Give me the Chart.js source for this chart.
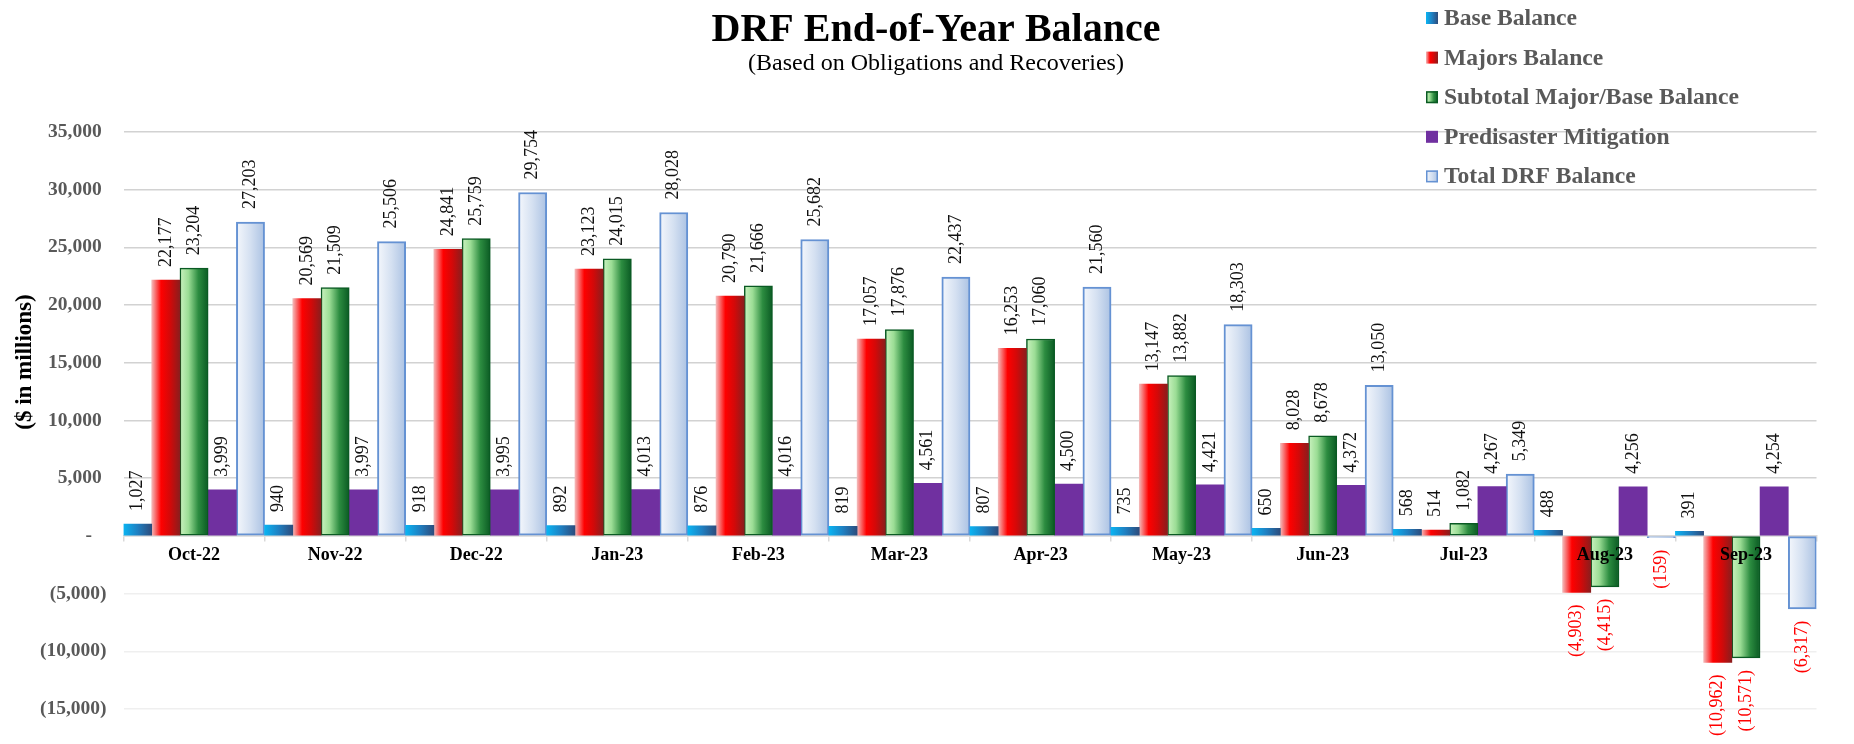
<!DOCTYPE html>
<html>
<head>
<meta charset="utf-8">
<title>DRF End-of-Year Balance</title>
<script src="https://cdn.jsdelivr.net/npm/chart.js@4.4.1/dist/chart.umd.min.js"></script>
<style>
  html, body { margin: 0; padding: 0; background: #fff; }
  canvas { display: block; }
</style>
</head>
<body>
<canvas id="drfChart" width="1854" height="744"></canvas>
<script>
const months = ['Oct-22', 'Nov-22', 'Dec-22', 'Jan-23', 'Feb-23', 'Mar-23',
                'Apr-23', 'May-23', 'Jun-23', 'Jul-23', 'Aug-23', 'Sep-23'];
const baseBalance     = [1027, 940, 918, 892, 876, 819, 807, 735, 650, 568, 488, 391];
const majorsBalance   = [22177, 20569, 24841, 23123, 20790, 17057, 16253, 13147, 8028, 514, -4903, -10962];
const subtotalBalance = [23204, 21509, 25759, 24015, 21666, 17876, 17060, 13882, 8678, 1082, -4415, -10571];
const pdmBalance      = [3999, 3997, 3995, 4013, 4016, 4561, 4500, 4421, 4372, 4267, 4256, 4254];
const totalBalance    = [27203, 25506, 29754, 28028, 25682, 22437, 21560, 18303, 13050, 5349, -159, -6317];
const seriesNames = ['Base Balance', 'Majors Balance', 'Subtotal Major/Base Balance',
                     'Predisaster Mitigation', 'Total DRF Balance'];
const yTicks = { min: -15000, max: 35000, step: 5000 };

const chartTitle = 'DRF End-of-Year Balance';
const chartSubtitle = '(Based on Obligations and Recoveries)';
const yTitle = '($ in millions)';

const serif = '"Liberation Serif", "Times New Roman", serif';

// horizontal gradients for the bars
const baseStops  = [[0, '#0AB4F2'], [0.5, '#1F80C2'], [1, '#2D4C7C']];
const majorStops = [[0, '#F4B8B8'], [0.33, '#FF0000'], [0.65, '#D30909'], [1, '#8A1D1D']];
const subStops   = [[0, '#CAF2BF'], [0.3, '#9BDD95'], [0.65, '#2C8C40'], [1, '#0A5A23']];
const totalStops = [[0, '#F4F7FC'], [0.5, '#D4E0F1'], [1, '#ABC2E3']];

function makeGradient(ctx, x0, x1, stops) {
    const g = ctx.createLinearGradient(x0, 0, x1, 0);
    stops.forEach(([p, c]) => g.addColorStop(p, c));
    return g;
}

function barFill(stops) {
    return c => {
        const el = c.element;
        if (!el || el.x === undefined || !el.width) return stops[Math.floor(stops.length / 2)][1];
        return makeGradient(c.chart.ctx, el.x - el.width / 2, el.x + el.width / 2, stops);
    };
}

const fmt = v => Math.abs(v).toLocaleString('en-US');

// rotated value labels above / below each bar
const valueLabels = {
    id: 'valueLabels',
    afterDatasetsDraw(chart) {
        const ctx = chart.ctx;
        chart.data.datasets.forEach((ds, di) => {
            const meta = chart.getDatasetMeta(di);
            meta.data.forEach((bar, i) => {
                const v = ds.data[i];
                const neg = v < 0;
                ctx.save();
                ctx.translate(bar.x, neg ? bar.y + 12 : bar.y - 13);
                ctx.rotate(-Math.PI / 2);
                ctx.font = '18px ' + serif;
                ctx.textAlign = neg ? 'right' : 'left';
                ctx.textBaseline = 'middle';
                ctx.fillStyle = neg ? '#FF0000' : '#111111';
                ctx.fillText(neg ? '(' + fmt(v) + ')' : fmt(v), 0, 0);
                ctx.restore();
            });
        });
    }
};

// title, subtitle, y title and the legend at the top right
const decorations = {
    id: 'decorations',
    afterDraw(chart) {
        const ctx = chart.ctx;
        const cx = 936;
        ctx.save();
        ctx.fillStyle = '#000';
        ctx.textAlign = 'center';
        ctx.textBaseline = 'alphabetic';
        ctx.font = 'bold 40px ' + serif;
        ctx.fillText(chartTitle, cx, 41);
        ctx.font = '24px ' + serif;
        ctx.fillText(chartSubtitle, cx, 70);

        ctx.translate(25, 362);
        ctx.rotate(-Math.PI / 2);
        ctx.textBaseline = 'middle';
        ctx.font = 'bold 23px ' + serif;
        ctx.fillText(yTitle, 0, 0);
        ctx.restore();

        ctx.save();
        ctx.font = 'bold 23.6px ' + serif;
        ctx.textAlign = 'left';
        ctx.textBaseline = 'middle';
        chart.data.datasets.forEach((ds, i) => {
            const y = 18 + i * 39.6;
            const x = 1426, s = 12;
            ctx.fillStyle = ds.legendStops ? makeGradient(ctx, x, x + s, ds.legendStops) : ds.legendColor;
            ctx.fillRect(x, y - s / 2, s, s);
            if (ds.legendBorder) {
                ctx.strokeStyle = ds.legendBorder;
                ctx.lineWidth = 1.5;
                ctx.strokeRect(x + 0.75, y - s / 2 + 0.75, s - 1.5, s - 1.5);
            }
            ctx.fillStyle = '#595959';
            ctx.fillText(ds.label, 1444, y + 1);
        });
        ctx.restore();
    }
};

const chart = new Chart(document.getElementById('drfChart'), {
    type: 'bar',
    data: {
        labels: months,
        datasets: [
            { label: seriesNames[0], data: baseBalance, backgroundColor: barFill(baseStops),
              borderWidth: 0, legendStops: baseStops },
            { label: seriesNames[1], data: majorsBalance, backgroundColor: barFill(majorStops),
              borderWidth: 0, legendStops: majorStops },
            { label: seriesNames[2], data: subtotalBalance, backgroundColor: barFill(subStops),
              borderColor: '#0A5A23', borderWidth: 1.5, borderSkipped: false,
              legendStops: subStops, legendBorder: '#0A5A23' },
            { label: seriesNames[3], data: pdmBalance, backgroundColor: '#7030A0',
              borderWidth: 0, legendColor: '#7030A0' },
            { label: seriesNames[4], data: totalBalance, backgroundColor: barFill(totalStops),
              borderColor: '#6592D3', borderWidth: 2, borderSkipped: false,
              legendStops: totalStops, legendBorder: '#6592D3' }
        ]
    },
    options: {
        responsive: false,
        animation: false,
        events: [],
        datasets: {
            bar: { categoryPercentage: 1.0, barPercentage: 1.0 }
        },
        layout: {
            padding: { top: 132, bottom: 35, left: 0, right: 37.5 }
        },
        plugins: {
            legend: { display: false },
            title: { display: false },
            tooltip: { enabled: false }
        },
        scales: {
            x: {
                position: { y: 0 },
                grid: {
                    drawOnChartArea: false,
                    drawTicks: true,
                    tickLength: 5,
                    color: '#D9D9D9',
                    lineWidth: 1.5
                },
                border: { display: true, color: '#D9D9D9', width: 1.5 },
                ticks: {
                    z: 1,
                    padding: 4,
                    color: '#000',
                    font: { family: serif, size: 18, weight: 'bold' },
                    maxRotation: 0,
                    autoSkip: false
                }
            },
            y: {
                min: yTicks.min,
                max: yTicks.max,
                afterFit(scale) { scale.width = 123.5; },
                border: { display: false },
                grid: {
                    drawTicks: false,
                    lineWidth: 1.5,
                    color: c => c.tick.value < 0 ? '#EFEFEF' : (c.tick.value === 0 ? '#D9D9D9' : '#D2D2D2')
                },
                ticks: {
                    stepSize: yTicks.step,
                    padding: 17,
                    color: '#595959',
                    font: { family: serif, size: 19.5, weight: 'bold' },
                    callback: v => v > 0 ? fmt(v) + ' ' : (v < 0 ? '(' + fmt(v) + ')' : '-   ')
                }
            }
        }
    },
    plugins: [valueLabels, decorations]
});

// second pass so the bar gradients can follow each bar's own position
chart.update('none');
</script>
</body>
</html>
